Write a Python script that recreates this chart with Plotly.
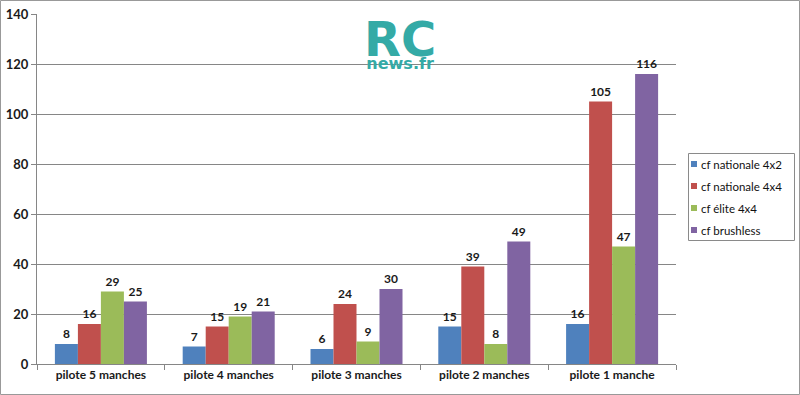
import plotly.graph_objects as go

categories = ["pilote 5 manches", "pilote 4 manches", "pilote 3 manches", "pilote 2 manches", "pilote 1 manche"]
series_names = ["cf nationale 4x2", "cf nationale 4x4", "cf élite 4x4", "cf brushless"]
nat_4x2 = [8, 7, 6, 15, 16]
nat_4x4 = [16, 15, 24, 39, 105]
elite_4x4 = [29, 19, 9, 8, 47]
brushless = [25, 21, 30, 49, 116]
colors = ["#4F81BD", "#C0504D", "#9BBB59", "#8064A2"]
y_ticks = [0, 20, 40, 60, 80, 100, 120, 140]

FONT = "Lato, Carlito, 'Open Sans', sans-serif"

fig = go.Figure()
for name, vals, col in zip(series_names, [nat_4x2, nat_4x4, elite_4x4, brushless], colors):
    fig.add_trace(go.Bar(
        x=categories, y=vals, name=name, marker=dict(color=col, line=dict(width=0)),
        text=[str(v) for v in vals], textposition="outside", cliponaxis=False,
        textfont=dict(family=FONT, size=12, color="#1a1a1a", weight="bold"),
        showlegend=False,
    ))

L, R, T, B = 37, 676, 14, 364
W, H = 800, 395
pw, ph = R - L, B - T

def px(x):
    return (x - L) / pw

def py(y):
    return (B - y) / ph

shapes = [dict(
    type="rect", xref="paper", yref="paper",
    x0=px(0.5), x1=px(W - 0.5), y0=py(H - 0.5), y1=py(0.5),
    line=dict(color="#999999", width=1), fillcolor="rgba(0,0,0,0)", layer="below",
)]
# legend box
shapes.append(dict(type="rect", xref="paper", yref="paper",
                   x0=px(688.5), x1=px(794.5), y0=py(240.5), y1=py(153.5),
                   line=dict(color="#8a8a8a", width=1), fillcolor="white"))
annotations = []
leg_y = [164, 186, 208, 230]
for name, col, yc in zip(series_names, colors, leg_y):
    shapes.append(dict(type="rect", xref="paper", yref="paper",
                       x0=px(691), x1=px(697), y0=py(yc + 3), y1=py(yc - 3),
                       line=dict(width=0), fillcolor=col))
    annotations.append(dict(text=name, xref="paper", yref="paper", x=px(699), y=py(yc),
                            xanchor="left", yanchor="middle", showarrow=False,
                            font=dict(family=FONT, size=11.5, color="#111111")))

annotations.append(dict(
    text="<span style='font-size:48px'>RC</span><br><span style='font-size:16px'>news.fr</span>",
    xref="paper", yref="paper", x=px(400), y=py(42), align="center",
    showarrow=False, font=dict(family="'DejaVu Sans', sans-serif", size=10, color="#34AAA6", weight="bold"),
    xanchor="center", yanchor="middle"))

fig.update_layout(
    width=W, height=H,
    margin=dict(l=L, r=W - R, t=T, b=H - B, autoexpand=False),
    paper_bgcolor="white", plot_bgcolor="white",
    barmode="group", bargap=0.28, bargroupgap=0,
    font=dict(family=FONT, color="#1a1a1a"),
    showlegend=False,
    xaxis=dict(
        showline=True, linecolor="#868686", linewidth=1,
        ticks="outside", tickson="boundaries", ticklen=5, tickcolor="#868686",
        tickfont=dict(family=FONT, size=12, color="#1a1a1a", weight="bold"),
        showgrid=False,
    ),
    yaxis=dict(
        range=[0, 140], tickvals=y_ticks, showline=True, linecolor="#868686", linewidth=1,
        ticks="outside", ticklen=5, tickcolor="#868686",
        showgrid=True, gridcolor="#868686", gridwidth=1,
        tickfont=dict(family=FONT, size=13, color="#1a1a1a", weight="bold"),
        zeroline=False,
    ),
    shapes=shapes,
    annotations=annotations,
)

fig.write_html("out.html", config={"displayModeBar": False},
               post_script="document.body.style.margin='0';document.body.style.padding='0';")
